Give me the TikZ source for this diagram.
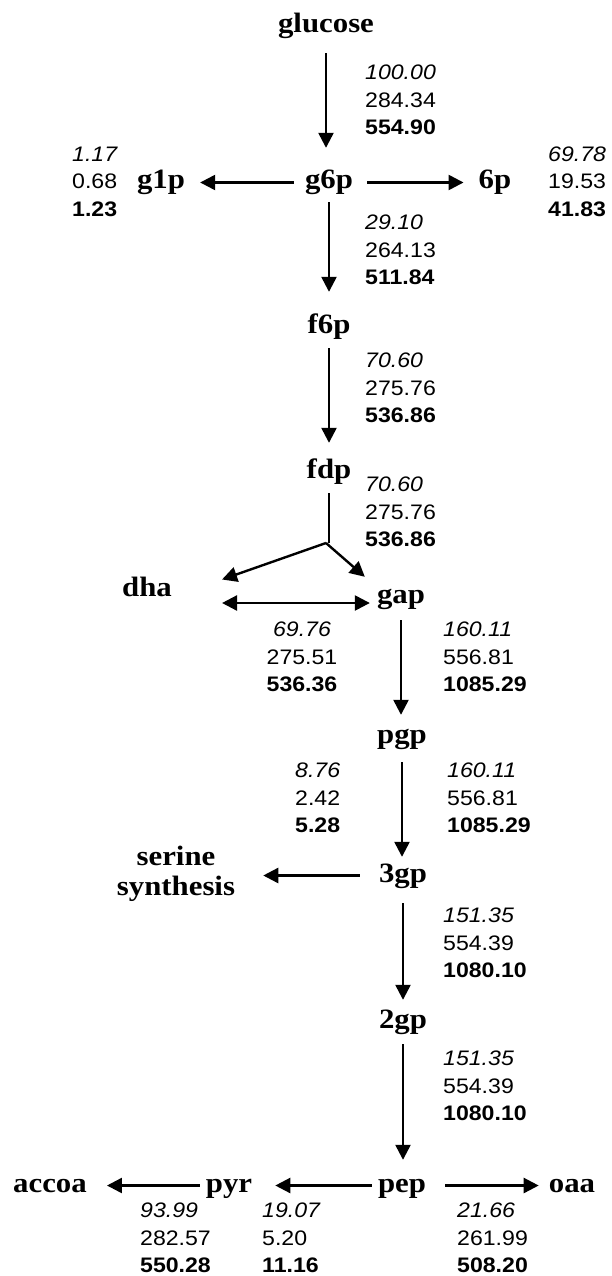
\documentclass[tikz,border=0pt]{standalone}
\usepackage{fontspec}
\usetikzlibrary{arrows.meta}
\newfontfamily\metfont{Liberation Serif}[FakeStretch=1.1]
\newfontfamily\valfont{Liberation Sans}[FakeStretch=1.1]
% three flux values: italic, plain, bold
\newcommand\flux[3]{\textit{#1}\\#2\\\textbf{#3}}

\begin{document}
\begin{tikzpicture}[x=1pt,y=-1pt,
  met/.style={font=\metfont\bfseries\fontsize{28}{30}\selectfont,
    inner sep=0pt, text height=19pt, text depth=6pt, anchor=base},
  vals/.style={font=\valfont\fontsize{21}{27.5}\selectfont,
    inner sep=0pt, align=left, anchor=north west},
  flow/.style={line width=2.4pt, -{Triangle[length=15pt,width=15pt]}},
  both/.style={line width=2.4pt, {Triangle[length=15pt,width=15pt]}-{Triangle[length=15pt,width=15pt]}},
  stem/.style={line width=2.4pt},
]
\path[fill=white] (0,0) rectangle (612,1276);
\useasboundingbox (0,0) rectangle (612,1276);

% metabolites
\node[met] (glucose) at (326,33)   {glucose};
\node[met] (g6p)     at (329,189)  {g6p};
\node[met] (g1p)     at (161,189)  {g1p};
\node[met] (6p)      at (495,189)  {6p};
\node[met] (f6p)     at (329,333)  {f6p};
\node[met] (fdp)     at (329,478)  {fdp};
\node[met] (dha)     at (147,596)  {dha};
\node[met] (gap)     at (401,603)  {gap};
\node[met] (pgp)     at (402,743)  {pgp};
\node[met] (3gp)     at (403,882)  {3gp};
\node[font=\metfont\bfseries\fontsize{28}{30}\selectfont, inner sep=0pt,
      align=center, anchor=north] (serine) at (176,846) {serine\\synthesis};
\node[met] (2gp)     at (403,1028) {2gp};
\node[met] (pep)     at (402,1192) {pep};
\node[met] (pyr)     at (229,1192) {pyr};
\node[met] (accoa)   at (50,1192)  {accoa};
\node[met] (oaa)     at (572,1192) {oaa};

% flux values
\node[vals] (vglc) at (365,65)    {\flux{100.00}{284.34}{554.90}};
\node[vals] (vg1p) at (72,146.5)  {\flux{1.17}{0.68}{1.23}};
\node[vals] (v6p)  at (548,146.5) {\flux{69.78}{19.53}{41.83}};
\node[vals] (vg6p) at (365,215)   {\flux{29.10}{264.13}{511.84}};
\node[vals] (vf6p) at (365,353)   {\flux{70.60}{275.76}{536.86}};
\node[vals] (vfdp) at (365,477)   {\flux{70.60}{275.76}{536.86}};
\node[vals, align=center, anchor=north] (vdha) at (302,622) {\flux{69.76}{275.51}{536.36}};
\node[vals] (vgap) at (443,622)   {\flux{160.11}{556.81}{1085.29}};
\node[vals] (vser) at (295,763)   {\flux{8.76}{2.42}{5.28}};
\node[vals] (vpgp) at (447,763)   {\flux{160.11}{556.81}{1085.29}};
\node[vals] (v3gp) at (443,908)   {\flux{151.35}{554.39}{1080.10}};
\node[vals] (v2gp) at (443,1051)  {\flux{151.35}{554.39}{1080.10}};
\node[vals] (vacc) at (140,1203)  {\flux{93.99}{282.57}{550.28}};
\node[vals] (vpyr) at (262,1203)  {\flux{19.07}{5.20}{11.16}};
\node[vals] (voaa) at (457,1203)  {\flux{21.66}{261.99}{508.20}};

% main chain
\draw[flow, shorten <=14pt, shorten >=22pt] (glucose.south) -- (glucose.south |- g6p.north);
\draw[flow, shorten <=7pt,  shorten >=22pt] (g6p.south) -- (g6p.south |- f6p.north);
\draw[flow, shorten <=9pt,  shorten >=16pt] (f6p.south) -- (f6p.south |- fdp.north);

% side branches at g6p
\draw[flow, shorten <=11pt, shorten >=15pt] (g6p) -- (g1p);
\draw[flow, shorten <=14pt, shorten >=15pt] (g6p) -- (6p);

% aldolase split
\coordinate (split) at (326,543);
\draw[stem, shorten <=9pt] (fdp.south) -- (fdp.south |- split);
\draw[flow] (split) -- ([shift={(50pt,10pt)}]dha.east);
\draw[flow] (split) -- ([shift={(-12pt,7pt)}]gap.north west);
\draw[both] ([shift={(50pt,-7pt)}]dha.base east) -- ([xshift=-7pt]gap.base west);

% lower glycolysis
\draw[flow, shorten <=11pt, shorten >=9pt]  (gap.south) -- (gap.south |- pgp.north);
\draw[flow, shorten <=13pt, shorten >=6pt]  (pgp.south) -- (pgp.south |- 3gp.north);
\draw[flow, shorten <=19pt, shorten >=28pt] (3gp.west) -- (3gp.west -| serine.east);
\draw[flow, shorten <=15pt, shorten >=9pt]  (3gp.south) -- (3gp.south |- 2gp.north);
\draw[flow, shorten <=10pt, shorten >=13pt] (2gp.south) -- (2gp.south |- pep.north);

% pyruvate node
\draw[flow, shorten <=6pt,  shorten >=23pt] (pep) -- (pyr);
\draw[flow, shorten <=6pt,  shorten >=20pt] (pyr) -- (accoa);
\draw[flow, shorten <=19pt, shorten >=10pt] (pep) -- (oaa);
\end{tikzpicture}
\end{document}
